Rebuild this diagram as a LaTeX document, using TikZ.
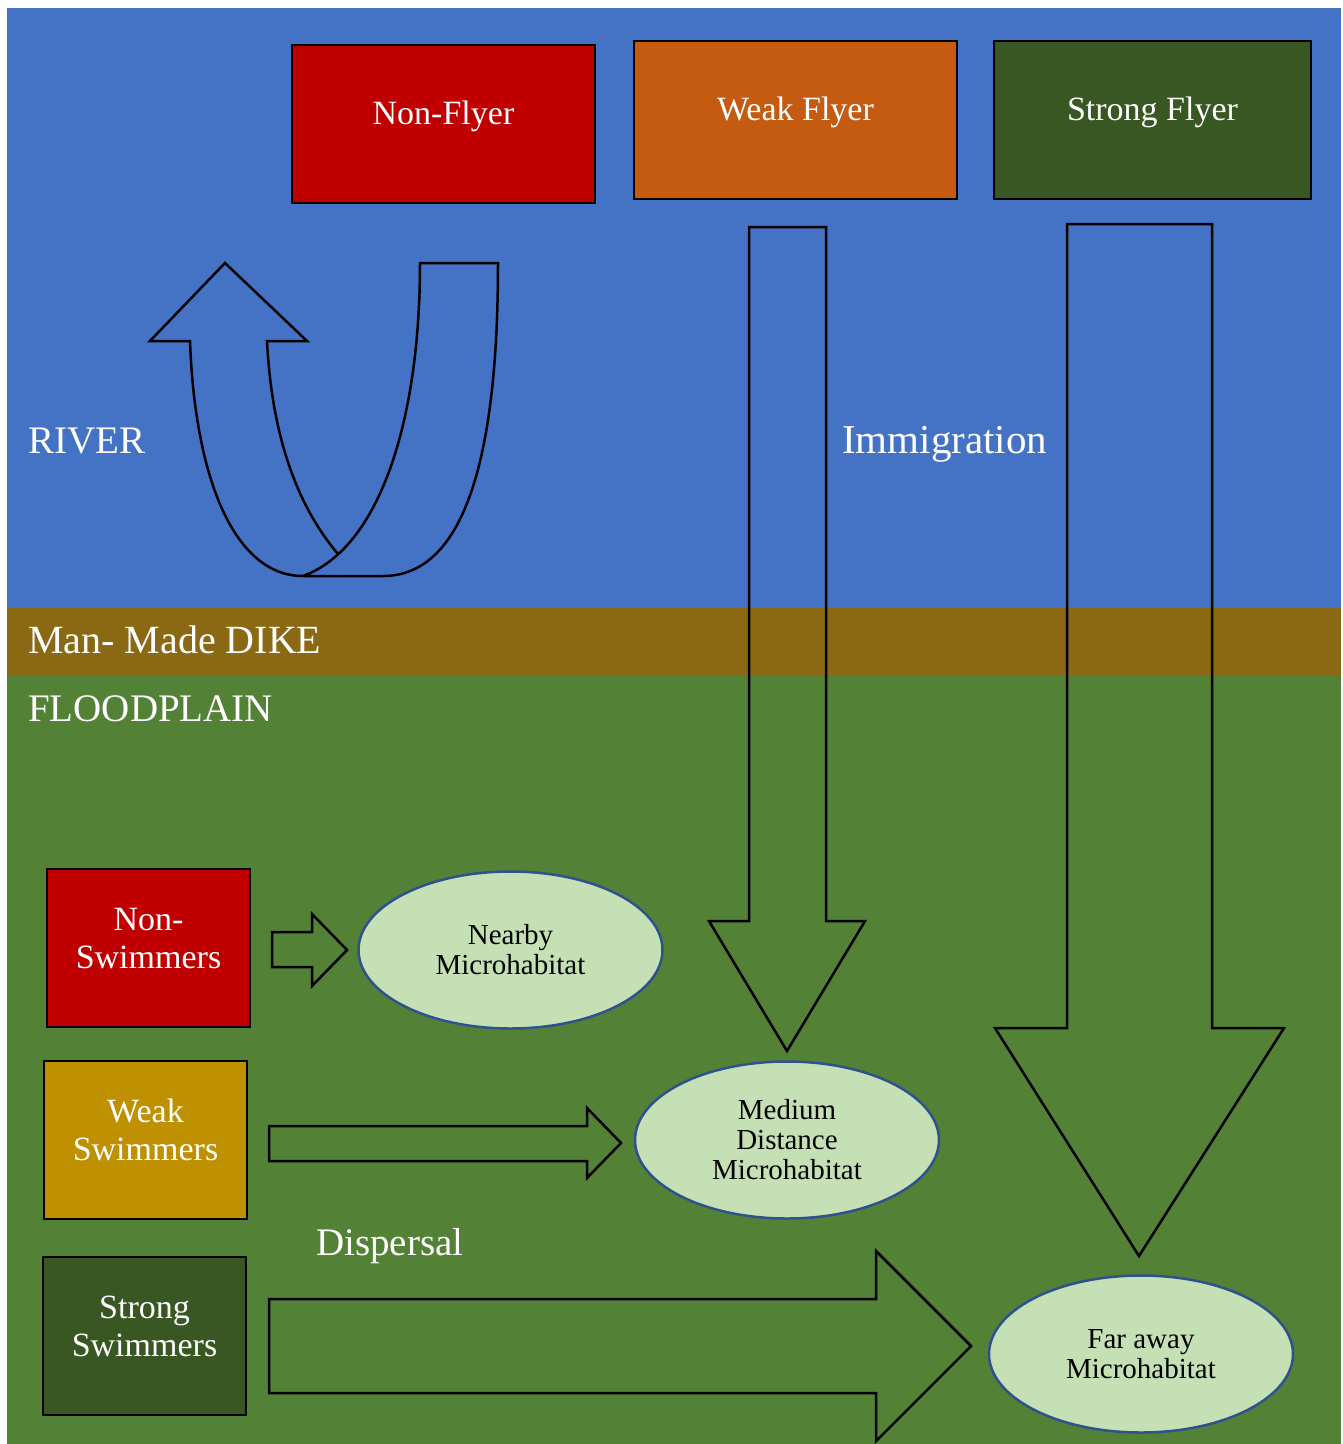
\documentclass[tikz,border=0pt]{standalone}
\usepackage{fontspec}
\setmainfont{Liberation Serif}
\usetikzlibrary{shapes.geometric}
\definecolor{riverblue}{HTML}{4472C4}
\definecolor{dikebrown}{HTML}{8B6914}
\definecolor{plaingreen}{HTML}{538135}
\definecolor{boxred}{HTML}{C00000}
\definecolor{boxorange}{HTML}{C55A11}
\definecolor{boxdkgreen}{HTML}{385723}
\definecolor{boxgold}{HTML}{BF9000}
\definecolor{habfill}{HTML}{C5E0B4}
\definecolor{habborder}{HTML}{2F528F}
\tikzset{
  box/.style={draw=black, line width=2.5pt, inner sep=0pt, minimum height=158pt},
  lbl/.style={text=white, font=\fontsize{34}{38}\selectfont, align=center, inner sep=0pt},
  big/.style={text=white, font=\fontsize{39}{44}\selectfont, anchor=base west, inner sep=0pt},
  hab/.style={ellipse, draw=habborder, line width=2.5pt, fill=habfill, minimum width=304pt,
    minimum height=157pt, inner sep=0pt, align=center, font=\fontsize{29}{30}\selectfont},
  blockarrow/.style={draw=black, line width=2.5pt, line join=miter}
}
\begin{document}
\begin{tikzpicture}[x=1pt, y=-1pt]
\useasboundingbox (0,0) rectangle (1343,1444);
\fill[white] (0,0) rectangle (1343,1444);
\fill[riverblue] (7,8) rectangle (1341,608);
\fill[dikebrown] (7,608) rectangle (1341,675);
\fill[plaingreen] (7,675) rectangle (1341,1444);

% region labels
\node[big] (river) at (28,453) {RIVER};
\node[big, font=\fontsize{40}{44}\selectfont] (dike) at (28,653) {Man- Made DIKE};
\node[big] (flood) at (28,721) {FLOODPLAIN};
\node[big, font=\fontsize{41}{44}\selectfont] (immig) at (842,453) {Immigration};
\node[big] (disp) at (316,1255) {Dispersal};

% U-turn arrow
\draw[blockarrow] (338,554) .. controls (299,508) and (272,440) .. (267,341)
  -- (307,341) -- (225,263) -- (150,341) -- (190,341)
  .. controls (195,480) and (235,576) .. (303,576) -- (383,576)
  .. controls (460,576) and (498,470) .. (498,263) -- (420,263)
  .. controls (420,420) and (380,548) .. (303,576);

% flyer boxes
\node[box, fill=boxred, minimum width=303pt] (nf) at (443.5,124) {};
\node[box, fill=boxorange, minimum width=323pt] (wf) at (795.5,120) {};
\node[box, fill=boxdkgreen, minimum width=317pt] (sf) at (1152.5,120) {};
\node[lbl, anchor=base] (nft) at (443.5,124) {Non-Flyer};
\node[lbl, anchor=base] (wft) at (795.5,120) {Weak Flyer};
\node[lbl, anchor=base] (sft) at (1152.5,120) {Strong Flyer};

% swimmer boxes
\node[box, fill=boxred, minimum width=203pt] (ns) at (148.5,948) {};
\node[box, fill=boxgold, minimum width=203pt] (ws) at (145.5,1140) {};
\node[box, fill=boxdkgreen, minimum width=203pt] (ss) at (144.5,1336) {};
\node[lbl] (nst) at (148.5,939) {Non-\\Swimmers};
\node[lbl] (wst) at (145.5,1130) {Weak\\Swimmers};
\node[lbl] (sst) at (144.5,1326) {Strong\\Swimmers};

% microhabitats
\node[hab] (near) at (510.5,950) {Nearby\\Microhabitat};
\node[hab] (med) at (787,1140) {Medium\\Distance\\Microhabitat};
\node[hab] (far) at (1141,1354) {Far away\\Microhabitat};

% immigration arrows
\draw[blockarrow] (749,227) -- (826,227) -- (826,921) -- (865,921) -- (787,1051)
  -- (709,921) -- (749,921) -- cycle;
\draw[blockarrow] (1067,224) -- (1212,224) -- (1212,1028) -- (1284,1028) -- (1139,1256)
  -- (995,1028) -- (1067,1028) -- cycle;

% dispersal arrows
\draw[blockarrow] (272,932) -- (312,932) -- (312,914) -- (347,950) -- (312,986)
  -- (312,967) -- (272,967) -- cycle;
\draw[blockarrow] (269,1126) -- (587,1126) -- (587,1108) -- (621,1143) -- (587,1178)
  -- (587,1161) -- (269,1161) -- cycle;
\draw[blockarrow] (269,1299) -- (876,1299) -- (876,1251) -- (971,1346) -- (876,1441)
  -- (876,1393) -- (269,1393) -- cycle;
\end{tikzpicture}
\end{document}
